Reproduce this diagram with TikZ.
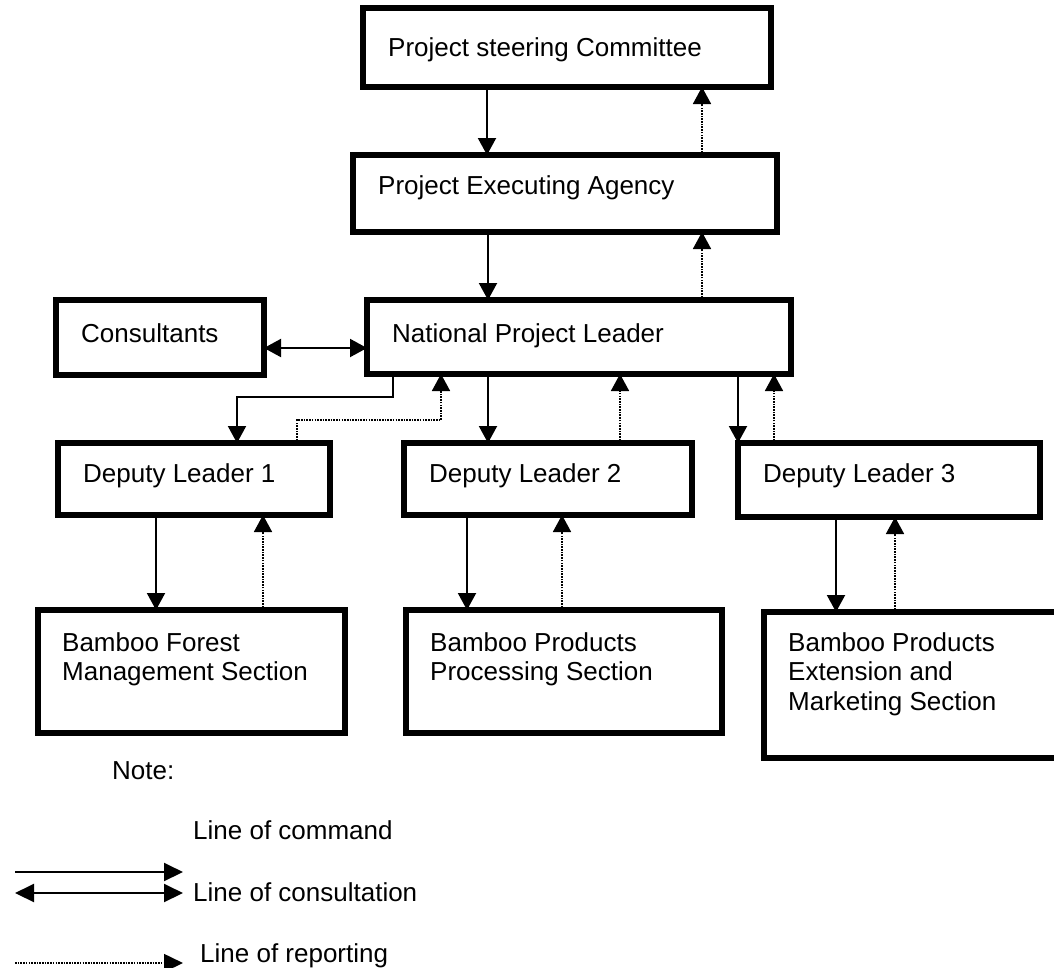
\documentclass[tikz,border=0pt]{standalone}
\usepackage{fontspec}
\setmainfont{Liberation Sans}
\usetikzlibrary{arrows.meta}
\begin{document}
\begin{tikzpicture}[x=1pt,y=-1pt,
  box/.style={draw, line width=5.5pt, inner sep=0pt, outer sep=0pt, anchor=north west},
  txt/.style={font=\fontsize{26}{30}\selectfont, inner sep=0pt, anchor=base west},
  mtxt/.style={font=\fontsize{26}{29.5}\selectfont, inner sep=0pt, anchor=north west, align=left},
  tip/.style={-{Triangle[length=17pt,width=18pt]}},
  cmd/.style={line width=2pt, tip},
  rep/.style={line width=1.7pt, dash pattern=on 1.6pt off 1.1pt, tip},
  cons/.style={line width=2pt, {Triangle[length=17pt,width=18pt]}-{Triangle[length=17pt,width=18pt]}},
  ltip/.style={-{Triangle[length=19pt,width=18pt]}},
]
\useasboundingbox (0,0) rectangle (1054,967);

% boxes
\node[box, minimum width=408pt, minimum height=79pt] (sc) at (363,8) {};
\node[box, minimum width=424pt, minimum height=77pt] (ea) at (353,155) {};
\node[box, minimum width=208pt, minimum height=75pt] (con) at (56,300) {};
\node[box, minimum width=424pt, minimum height=74pt] (npl) at (367,300) {};
\node[box, minimum width=272pt, minimum height=72pt] (dl1) at (58,443) {};
\node[box, minimum width=288pt, minimum height=72pt] (dl2) at (404,443) {};
\node[box, minimum width=302pt, minimum height=74pt] (dl3) at (738,443) {};
\node[box, minimum width=307pt, minimum height=123pt] (bfm) at (38,610) {};
\node[box, minimum width=316pt, minimum height=123pt] (bpp) at (406,610) {};
\node[box, minimum width=300pt, minimum height=146pt] (bpe) at (764,612) {};

% texts
\node[txt] (sct) at (388,56) {Project steering Committee};
\node[txt] (eat) at (378,194) {Project Executing Agency};
\node[txt] (cont) at (81,342) {Consultants};
\node[txt] (nplt) at (392,342) {National Project Leader};
\node[txt] (dl1t) at (83,482) {Deputy Leader 1};
\node[txt] (dl2t) at (429,482) {Deputy Leader 2};
\node[txt] (dl3t) at (763,482) {Deputy Leader 3};
\node[mtxt] (bfmt) at (62,632) {Bamboo Forest\\Management Section};
\node[mtxt] (bppt) at (430,632) {Bamboo Products\\Processing Section};
\node[mtxt] (bpet) at (788,632) {Bamboo Products\\Extension and\\Marketing Section};

% connectors
\draw[cmd] ([xshift=124pt]sc.south west) coordinate (a1) -- (a1 |- ea.north);
\draw[rep] ([xshift=349pt]ea.north west) coordinate (a2) -- (a2 |- sc.south);
\draw[cmd] ([xshift=135pt]ea.south west) coordinate (a3) -- (a3 |- npl.north);
\draw[rep] ([xshift=335pt]npl.north west) coordinate (a4) -- (a4 |- ea.south);
\draw[cons] ([yshift=-48pt]con.north east) coordinate (a5) -- (a5 -| npl.west);
\draw[cmd] ([xshift=26pt]npl.south west) -- ++(0,23) -| ([xshift=179pt]dl1.north west);
\draw[rep] ([xshift=239pt]dl1.north west) -- ++(0,-23) -| ([xshift=74pt]npl.south west);
\draw[cmd] ([xshift=121pt]npl.south west) coordinate (a6) -- (a6 |- dl2.north);
\draw[rep] ([xshift=216pt]dl2.north west) coordinate (a7) -- (a7 |- npl.south);
\draw[cmd] ([xshift=371pt]npl.south west) coordinate (a8) -- (a8 |- dl3.north);
\draw[rep] ([xshift=36pt]dl3.north west) coordinate (a9) -- (a9 |- npl.south);
\draw[cmd] ([xshift=98pt]dl1.south west) coordinate (b1) -- (b1 |- bfm.north);
\draw[rep] ([xshift=225pt]bfm.north west) coordinate (b2) -- (b2 |- dl1.south);
\draw[cmd] ([xshift=63pt]dl2.south west) coordinate (b3) -- (b3 |- bpp.north);
\draw[rep] ([xshift=156pt]bpp.north west) coordinate (b4) -- (b4 |- dl2.south);
\draw[cmd] ([xshift=98pt]dl3.south west) coordinate (b5) -- (b5 |- bpe.north);
\draw[rep] ([xshift=131pt]bpe.north west) coordinate (b6) -- (b6 |- dl3.south);

% legend
\node[txt] (note) at (112,779) {Note:};
\node[txt] (lcmd) at (193,839) {Line of command};
\node[txt] (lcons) at (193,901) {Line of consultation};
\node[txt] (lrep) at (200,962) {Line of reporting};
\coordinate (c1a) at (15,872);
\coordinate (c1b) at (183,872);
\coordinate (c2a) at (15,893);
\coordinate (c2b) at (183,893);
\coordinate (r1a) at (15,963);
\coordinate (r1b) at (183,963);
\draw[line width=2pt, ltip] (c1a) -- (c1b);
\draw[line width=2pt, {Triangle[length=19pt,width=18pt]}-{Triangle[length=19pt,width=18pt]}] (c2a) -- (c2b);
\draw[line width=1.7pt, dash pattern=on 1.6pt off 1.1pt, ltip] (r1a) -- (r1b);
\end{tikzpicture}
\end{document}
